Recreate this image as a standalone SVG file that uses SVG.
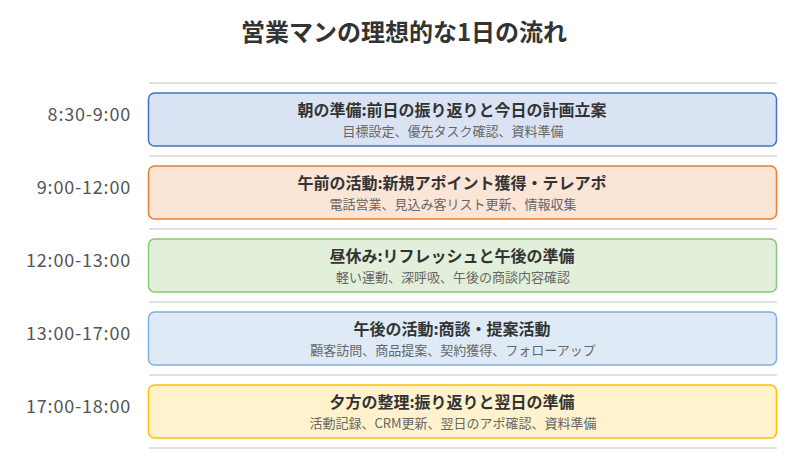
<svg xmlns="http://www.w3.org/2000/svg" width="800" height="460" viewBox="0 0 800 460">
<style>
text{font-family:"Noto Sans CJK JP","Noto Sans",sans-serif}
.ttl{font-size:24px;font-weight:bold;fill:#333;text-anchor:middle}
.sep{stroke:#e0e0e0;stroke-width:2}
.time{font-size:18px;fill:#555;text-anchor:end;letter-spacing:0.8px}
.box{stroke-width:1.5}
.h{font-size:16px;font-weight:bold;fill:#333;text-anchor:middle}
.s{font-size:13px;fill:#666;text-anchor:middle}
</style>
<rect width="800" height="460" fill="#fff"/>
<text class="ttl" x="404" y="41">営業マンの理想的な1日の流れ</text>
<g id="connectors">
<line class="sep" x1="149" y1="83" x2="777" y2="83"/>
<line class="sep" x1="149" y1="156" x2="777" y2="156"/>
<line class="sep" x1="149" y1="229" x2="777" y2="229"/>
<line class="sep" x1="149" y1="302" x2="777" y2="302"/>
<line class="sep" x1="149" y1="375" x2="777" y2="375"/>
<line class="sep" x1="149" y1="448" x2="777" y2="448"/>
</g>
<g id="n1">
<text class="time" x="131" y="121">8:30-9:00</text>
<rect class="box" x="148.5" y="93" width="628" height="53" rx="6" fill="#dae3f3" stroke="#4472c4"/>
<text class="h" x="452" y="115.5">朝の準備:前日の振り返りと今日の計画立案</text>
<text class="s" x="453" y="136">目標設定、優先タスク確認、資料準備</text>
</g>
<g id="n2">
<text class="time" x="131" y="194">9:00-12:00</text>
<rect class="box" x="148.5" y="166" width="628" height="53" rx="6" fill="#fbe5d6" stroke="#ed7d31"/>
<text class="h" x="452" y="188.5">午前の活動:新規アポイント獲得・テレアポ</text>
<text class="s" x="453" y="209">電話営業、見込み客リスト更新、情報収集</text>
</g>
<g id="n3">
<text class="time" x="131" y="267">12:00-13:00</text>
<rect class="box" x="148.5" y="239" width="628" height="53" rx="6" fill="#e2efda" stroke="#88c870"/>
<text class="h" x="452" y="261.5">昼休み:リフレッシュと午後の準備</text>
<text class="s" x="453" y="282">軽い運動、深呼吸、午後の商談内容確認</text>
</g>
<g id="n4">
<text class="time" x="131" y="340">13:00-17:00</text>
<rect class="box" x="148.5" y="312" width="628" height="53" rx="6" fill="#deebf7" stroke="#7fb0e0"/>
<text class="h" x="452" y="334.5">午後の活動:商談・提案活動</text>
<text class="s" x="453" y="355">顧客訪問、商品提案、契約獲得、フォローアップ</text>
</g>
<g id="n5">
<text class="time" x="131" y="413">17:00-18:00</text>
<rect class="box" x="148.5" y="385" width="628" height="53" rx="6" fill="#fff2cc" stroke="#ffc000"/>
<text class="h" x="452" y="407.5">夕方の整理:振り返りと翌日の準備</text>
<text class="s" x="453" y="428">活動記録、CRM更新、翌日のアポ確認、資料準備</text>
</g>
</svg>
